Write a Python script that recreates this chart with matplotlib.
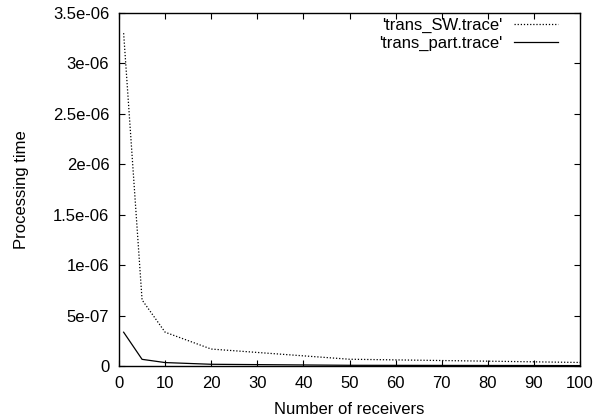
import matplotlib
matplotlib.use('Agg')
import matplotlib.pyplot as plt

plt.rcParams['font.family'] = ['Liberation Sans', 'DejaVu Sans']

receivers = [1, 5, 10, 20, 50, 100]
sw_time = [3.30e-6, 6.55e-7, 3.35e-7, 1.68e-7, 6.7e-8, 3.5e-8]
part_time = [3.35e-7, 6.6e-8, 3.4e-8, 1.7e-8, 7e-9, 4e-9]

xticks = [0, 10, 20, 30, 40, 50, 60, 70, 80, 90, 100]
yticks = [0, 5e-7, 1e-6, 1.5e-6, 2e-6, 2.5e-6, 3e-6, 3.5e-6]
ytick_labels = ['0', '5e-07', '1e-06', '1.5e-06', '2e-06', '2.5e-06', '3e-06', '3.5e-06']

fs = 12
fig = plt.figure(figsize=(6.06, 4.19), dpi=100)
ax = fig.add_axes([0.1964, 0.1265, 0.7607, 0.8425])

ax.plot(receivers, sw_time, color='black', linestyle=(0, (1, 1.5)), linewidth=0.9,
        label="'trans_SW.trace'")
ax.plot(receivers, part_time, color='black', linestyle='-', linewidth=0.9,
        label="'trans_part.trace'")

ax.set_xlim(0, 100)
ax.set_ylim(0, 3.5e-6)
ax.set_xticks(xticks)
ax.set_yticks(yticks)
ax.set_yticklabels(ytick_labels)
ax.tick_params(direction='in', length=4.5, width=0.8, top=True, right=True,
               labelsize=fs, pad=7)
for s in ax.spines.values():
    s.set_linewidth(1.0)

ax.set_xlabel('Number of receivers', fontsize=fs, labelpad=8)
ax.set_ylabel('Processing time', fontsize=fs, labelpad=17)

ax.legend(loc='upper right', markerfirst=False, frameon=False, fontsize=fs,
          handlelength=2.64, handletextpad=0.7, labelspacing=0.15,
          borderaxespad=0.0, borderpad=0.0, bbox_to_anchor=(0.952, 0.985))

fig.savefig('out.png', dpi=100)
